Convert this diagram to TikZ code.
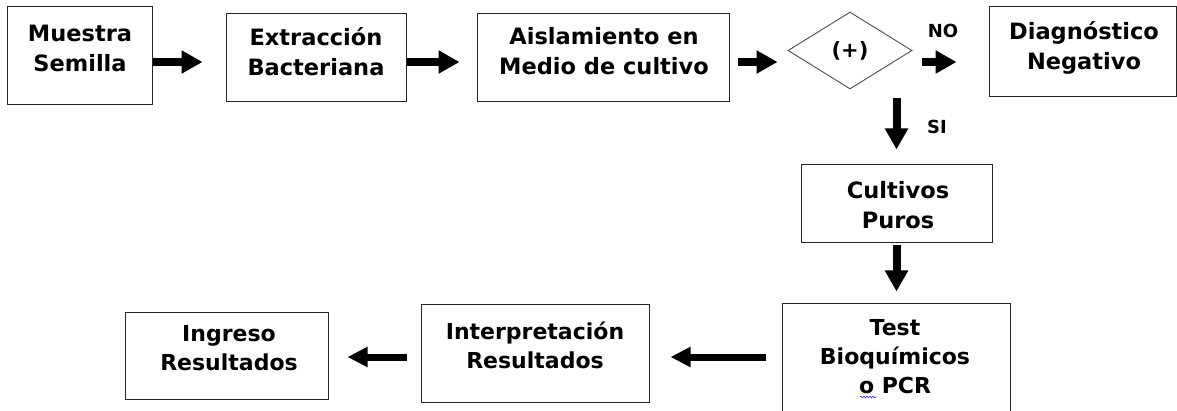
\documentclass[tikz,border=0pt]{standalone}
\usepackage{fontspec}
\setmainfont{DejaVu Sans}
\usetikzlibrary{shapes.geometric,arrows.meta,decorations.pathmorphing}
\begin{document}
\begin{tikzpicture}[x=1pt,y=1pt,
  boxn/.style={draw=black!85, line width=1pt, rectangle, inner sep=0pt},
  txt/.style={align=center, font=\bfseries\fontsize{22.5}{30}\selectfont, inner sep=0pt},
  txtb/.style={align=center, font=\bfseries\fontsize{22}{29}\selectfont, inner sep=0pt},
  lbl/.style={font=\bfseries\fontsize{18}{20}\selectfont, inner sep=0pt},
  arr/.style={line width=8pt, -{Triangle[length=21pt,width=22pt]}},
  arrs/.style={line width=7pt, -{Triangle[length=20pt,width=19pt]}},
]
\useasboundingbox (0,0) rectangle (1177,-411);
\clip (0,0) rectangle (1177,-411);
% boxes
\node[boxn, minimum width=145pt, minimum height=98pt] (m) at (80,-56) {};
\node[boxn, minimum width=180pt, minimum height=88pt] (e) at (316.5,-57.5) {};
\node[boxn, minimum width=252pt, minimum height=88pt] (a) at (603,-57.5) {};
\node[draw=black!70, line width=0.9pt, diamond, aspect=1.6, minimum width=124pt, minimum height=77pt, inner sep=0pt, font=\bfseries\fontsize{21}{24}\selectfont] (d) at (850,-50.5) {(+)};
\node[boxn, minimum width=187pt, minimum height=90pt] (dn) at (1082.5,-52) {};
\node[boxn, minimum width=191pt, minimum height=78pt] (c) at (896.5,-204) {};
\node[boxn, minimum width=228pt, minimum height=121pt] (t) at (896.5,-364.5) {};
\node[boxn, minimum width=228pt, minimum height=97pt] (i) at (535,-353.5) {};
\node[boxn, minimum width=203pt, minimum height=86pt] (g) at (226.5,-356) {};
% texts
\node[txt] (mt) at (80,-48) {Muestra\\Semilla};
\node[txt] (et) at (316,-52) {Extracción\\Bacteriana};
\node[txt] (at) at (604,-51) {Aislamiento en\\Medio de cultivo};
\node[txt] (dnt) at (1084,-48) {Diagnóstico\\Negativo};
\node[txt] (ct) at (898,-205) {Cultivos\\Puros};
\node[txtb] (tt) at (895,-357) {Test\\Bioquímicos\\o PCR};
\node[txtb] (it) at (535,-345) {Interpretación\\Resultados};
\node[txtb] (gt) at (229,-348) {Ingreso\\Resultados};
\node[lbl] (no) at (943,-31) {NO};
\node[lbl] (si) at (937,-127) {SI};
% spelling squiggle
\draw[blue!80, line width=0.6pt, decorate, decoration={snake, amplitude=0.9pt, segment length=3pt}] (860,-397) -- (876,-397);
% connectors
\draw[arr, shorten >=23.5pt] ([yshift=-6pt]m.east) -- ([yshift=-4.5pt]e.west);
\draw[arr, shorten >=17pt] ([yshift=-4.5pt]e.east) -- ([yshift=-4.5pt]a.west);
\draw[arr, shorten <=8pt, shorten >=10pt] ([yshift=-4.5pt]a.east) -- ([yshift=-11.5pt]d.west);
\draw[arr, shorten <=10pt, shorten >=32pt] ([yshift=-11.5pt]d.east) -- ([yshift=-10pt]dn.west);
\draw[arr, shorten <=8.5pt, shorten >=15pt] ([xshift=46.5pt]d.south) -- (c.north);
\draw[arr, shorten <=2pt, shorten >=12pt] (c.south) -- (t.north);
\draw[arrs, shorten <=16pt, shorten >=21pt] ([yshift=7.5pt]t.west) -- ([yshift=-3.5pt]i.east);
\draw[arrs, shorten <=14pt, shorten >=19pt] ([yshift=-3.5pt]i.west) -- ([yshift=-1pt]g.east);
\end{tikzpicture}
\end{document}
